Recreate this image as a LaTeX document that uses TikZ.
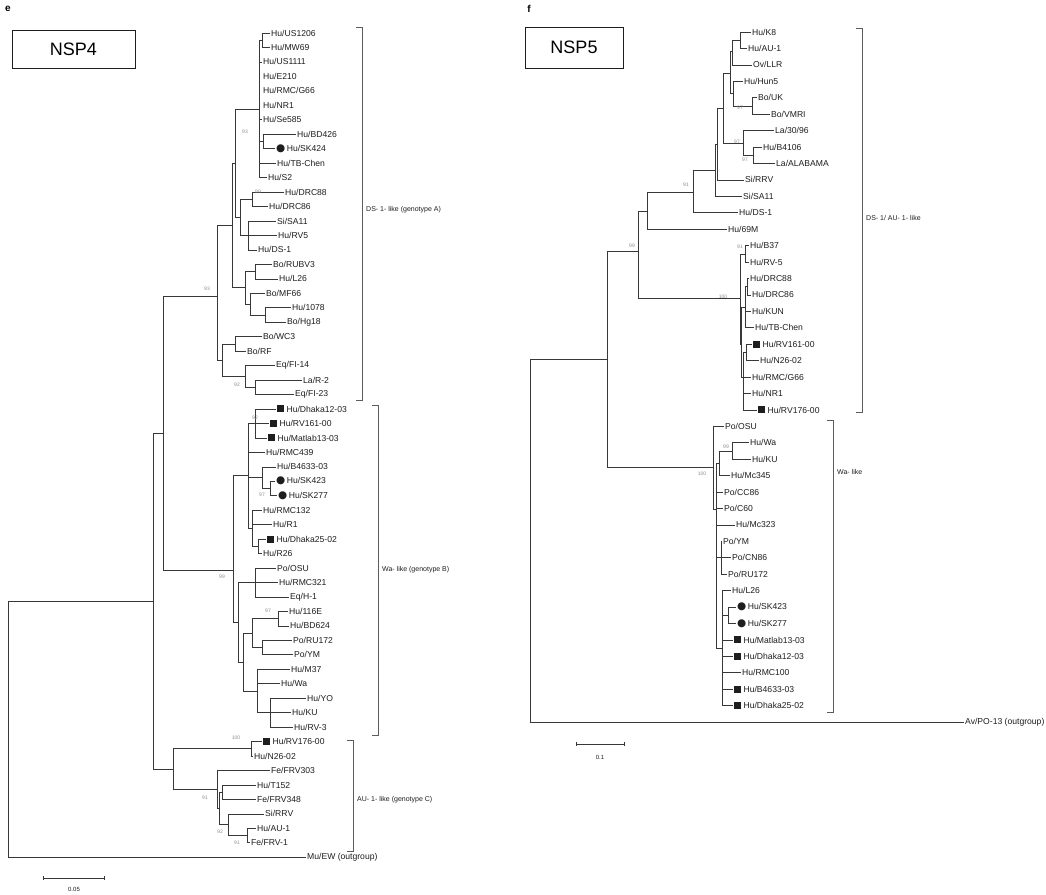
\documentclass[tikz,border=0pt]{standalone}
\usepackage{fontspec}
\setmainfont{Liberation Sans}
\newfontfamily\symfont{DejaVu Sans}
\usepackage{tikz}
\usetikzlibrary{arrows.meta,positioning}
\definecolor{Ink}{HTML}{1E1E1E}
\definecolor{Branch}{HTML}{383838}
\definecolor{Boot}{HTML}{8C8C8C}
\definecolor{Brak}{HTML}{5C5C5C}
\newcommand\boxmk{\rule[-.3pt]{7pt}{7pt}}
\newcommand\dotmk{{\symfont\fontsize{10.5}{10.5}\selectfont ●}}
\tikzset{
  leaf/.style={anchor=west,inner sep=1pt,text=Ink,font=\fontsize{8.6}{9}\selectfont},
  br/.style={draw=Branch,line width=.6pt},
  boot/.style={inner sep=0pt,text=Boot,font=\fontsize{5}{5}\selectfont},
  clade/.style={draw=Brak,line width=.6pt},
  cladelab/.style={anchor=west,inner sep=1pt,text=Ink,font=\fontsize{7}{8}\selectfont},
  titlebox/.style={draw=Ink,line width=.8pt,inner sep=0pt,font=\fontsize{18}{18}\selectfont},
  panel/.style={inner sep=0pt,font=\fontsize{10}{10}\selectfont\bfseries},
  scalebar/.style={draw=Branch,line width=.6pt,{Bar[width=4pt]}-{Bar[width=4pt]}},
  scalelab/.style={inner sep=0pt,text=Ink,font=\fontsize{6}{6}\selectfont}
}
\begin{document}
\begin{tikzpicture}[x=1pt,y=-1pt]
  \useasboundingbox[fill=white] (0,0) rectangle (1046,894);
  \node[panel] (pe) at (8,9) {e};
  \node[panel] (pf) at (529,9) {f};
  \node[titlebox,minimum width=123pt,minimum height=38pt] (t4) at (73.5,49) {NSP4};
  \node[titlebox,minimum width=98pt,minimum height=41pt] (t5) at (574,47.5) {NSP5};

  % NSP4 tree, one row per strain
  \begin{scope}[y=-14.46pt,yshift=-18.54pt]
    \node[leaf] (l1) at (270,1) {Hu/US1206};
    \node[leaf] (l2) at (270,2) {Hu/MW69};
    \node[leaf] (l3) at (262,3) {Hu/US1111};
    \node[leaf] (l4) at (262,4) {Hu/E210};
    \node[leaf] (l5) at (262,5) {Hu/RMC/G66};
    \node[leaf] (l6) at (262,6) {Hu/NR1};
    \node[leaf] (l7) at (262,7) {Hu/Se585};
    \node[leaf] (l8) at (296,8) {Hu/BD426};
    \node[leaf] (l9) at (275,9) {\dotmk\,Hu/SK424};
    \node[leaf] (l10) at (276,10) {Hu/TB-Chen};
    \node[leaf] (l11) at (267,11) {Hu/S2};
    \node[leaf] (l12) at (284,12) {Hu/DRC88};
    \node[leaf] (l13) at (268,13) {Hu/DRC86};
    \node[leaf] (l14) at (276,14) {Si/SA11};
    \node[leaf] (l15) at (277,15) {Hu/RV5};
    \node[leaf] (l16) at (257,16) {Hu/DS-1};
    \node[leaf] (l17) at (272,17) {Bo/RUBV3};
    \node[leaf] (l18) at (278,18) {Hu/L26};
    \node[leaf] (l19) at (265,19) {Bo/MF66};
    \node[leaf] (l20) at (291,20) {Hu/1078};
    \node[leaf] (l21) at (286,21) {Bo/Hg18};
    \node[leaf] (l22) at (262,22) {Bo/WC3};
    \node[leaf] (l23) at (246,23) {Bo/RF};
    \node[leaf] (l24) at (275,24) {Eq/FI-14};
    \node[leaf] (l25) at (302,25) {La/R-2};
    \node[leaf] (l26) at (294,26) {Eq/FI-23};
    \node[leaf] (l27) at (276,27) {\boxmk\ Hu/Dhaka12-03};
    \node[leaf] (l28) at (269,28) {\boxmk\ Hu/RV161-00};
    \node[leaf] (l29) at (267,29) {\boxmk\ Hu/Matlab13-03};
    \node[leaf] (l30) at (265,30) {Hu/RMC439};
    \node[leaf] (l31) at (276,31) {Hu/B4633-03};
    \node[leaf] (l32) at (275,32) {\dotmk\,Hu/SK423};
    \node[leaf] (l33) at (277,33) {\dotmk\,Hu/SK277};
    \node[leaf] (l34) at (262,34) {Hu/RMC132};
    \node[leaf] (l35) at (272,35) {Hu/R1};
    \node[leaf] (l36) at (266,36) {\boxmk\ Hu/Dhaka25-02};
    \node[leaf] (l37) at (262,37) {Hu/R26};
    \node[leaf] (l38) at (276,38) {Po/OSU};
    \node[leaf] (l39) at (278,39) {Hu/RMC321};
    \node[leaf] (l40) at (289,40) {Eq/H-1};
    \node[leaf] (l41) at (288,41) {Hu/116E};
    \node[leaf] (l42) at (289,42) {Hu/BD624};
    \node[leaf] (l43) at (292,43) {Po/RU172};
    \node[leaf] (l44) at (293,44) {Po/YM};
    \node[leaf] (l45) at (290,45) {Hu/M37};
    \node[leaf] (l46) at (280,46) {Hu/Wa};
    \node[leaf] (l47) at (306,47) {Hu/YO};
    \node[leaf] (l48) at (291,48) {Hu/KU};
    \node[leaf] (l49) at (293,49) {Hu/RV-3};
    \node[leaf] (l50) at (262,50) {\boxmk\ Hu/RV176-00};
    \node[leaf] (l51) at (253,51) {Hu/N26-02};
    \node[leaf] (l52) at (270,52) {Fe/FRV303};
    \node[leaf] (l53) at (256,53) {Hu/T152};
    \node[leaf] (l54) at (256,54) {Fe/FRV348};
    \node[leaf] (l55) at (264,55) {Si/RRV};
    \node[leaf] (l56) at (256,56) {Hu/AU-1};
    \node[leaf] (l57) at (250,57) {Fe/FRV-1};
    \node[leaf] (l58) at (306,58) {Mu/EW (outgroup)};

    % internal nodes
    \coordinate (p12) at (262,1.5);
    \coordinate (p89) at (263,8.5);
    \coordinate (aT) at (259,6.25);
    \coordinate (pdrc) at (252,12.5);
    \coordinate (aD2) at (248,15);
    \coordinate (aD) at (240,13.75);
    \coordinate (A1) at (235,10);
    \coordinate (p1718) at (255,17.5);
    \coordinate (p2021) at (265,20.5);
    \coordinate (aB2) at (250,19.75);
    \coordinate (aB) at (245,18.6);
    \coordinate (A1b) at (232,14.3);
    \coordinate (p2223) at (235,22.5);
    \coordinate (p2526) at (255,25.5);
    \coordinate (aE2) at (245,24.75);
    \coordinate (aE) at (222,23.6);
    \coordinate (A) at (217,19.19);
    \coordinate (p2729) at (255,28);
    \coordinate (p3233) at (270,32.5);
    \coordinate (b3) at (262,31.75);
    \coordinate (p3637) at (258,36.5);
    \coordinate (b4) at (252,35.25);
    \coordinate (B1) at (248,31.6);
    \coordinate (b5) at (255,39);
    \coordinate (p4142) at (278,41.5);
    \coordinate (p4344) at (262,43.5);
    \coordinate (b6) at (252,42.5);
    \coordinate (p4749) at (270,48);
    \coordinate (b7) at (257,46.5);
    \coordinate (b8) at (243,44.5);
    \coordinate (B2) at (238,41.75);
    \coordinate (B) at (233,38.14);
    \coordinate (p5051) at (251,50.5);
    \coordinate (p5354) at (222,53.5);
    \coordinate (p5657) at (247,56.5);
    \coordinate (c3) at (228,55.75);
    \coordinate (c2) at (219,54.6);
    \coordinate (c1) at (217,53.3);
    \coordinate (C) at (173,51.9);
    \coordinate (AB) at (163,28.66);
    \coordinate (I) at (153,40.28);
    \coordinate (R) at (8,49.06);

    \draw[br] (p12) |- (l1.west) (p12) |- (l2.west);
    \draw[br] (p89) |- (l8.west) (p89) |- (l9.west);
    \draw[br] (aT) |- (p12) (aT) |- (l3.west) (aT) |- (l7.west) (aT) |- (p89)
              (aT) |- (l10.west) (aT) |- (l11.west);
    \draw[br] (pdrc) |- (l12.west) (pdrc) |- (l13.west);
    \draw[br] (aD2) |- (l14.west) (aD2) |- (l15.west) (aD2) |- (l16.west);
    \draw[br] (aD) |- (pdrc) (aD) |- (aD2);
    \draw[br] (A1) |- (aT) (A1) |- (aD);
    \draw[br] (p1718) |- (l17.west) (p1718) |- (l18.west);
    \draw[br] (p2021) |- (l20.west) (p2021) |- (l21.west);
    \draw[br] (aB2) |- (l19.west) (aB2) |- (p2021);
    \draw[br] (aB) |- (p1718) (aB) |- (aB2);
    \draw[br] (A1b) |- (A1) (A1b) |- (aB);
    \draw[br] (p2223) |- (l22.west) (p2223) |- (l23.west);
    \draw[br] (p2526) |- (l25.west) (p2526) |- (l26.west);
    \draw[br] (aE2) |- (l24.west) (aE2) |- (p2526);
    \draw[br] (aE) |- (p2223) (aE) |- (aE2);
    \draw[br] (A) |- (A1b) (A) |- (aE);
    \draw[br] (p2729) |- (l27.west) (p2729) |- (l28.west) (p2729) |- (l29.west);
    \draw[br] (p3233) |- (l32.west) (p3233) |- (l33.west);
    \draw[br] (b3) |- (l31.west) (b3) |- (p3233);
    \draw[br] (p3637) |- (l36.west) (p3637) |- (l37.west);
    \draw[br] (b4) |- (l34.west) (b4) |- (l35.west) (b4) |- (p3637);
    \draw[br] (B1) |- (p2729) (B1) |- (l30.west) (B1) |- (b3) (B1) |- (b4);
    \draw[br] (b5) |- (l38.west) (b5) |- (l39.west) (b5) |- (l40.west);
    \draw[br] (p4142) |- (l41.west) (p4142) |- (l42.west);
    \draw[br] (p4344) |- (l43.west) (p4344) |- (l44.west);
    \draw[br] (b6) |- (p4142) (b6) |- (p4344);
    \draw[br] (p4749) |- (l47.west) (p4749) |- (l48.west) (p4749) |- (l49.west);
    \draw[br] (b7) |- (l45.west) (b7) |- (l46.west) (b7) |- (p4749);
    \draw[br] (b8) |- (b6) (b8) |- (b7);
    \draw[br] (B2) |- (b5) (B2) |- (b8);
    \draw[br] (B) |- (B1) (B) |- (B2);
    \draw[br] (p5051) |- (l50.west) (p5051) |- (l51.west);
    \draw[br] (p5354) |- (l53.west) (p5354) |- (l54.west);
    \draw[br] (p5657) |- (l56.west) (p5657) |- (l57.west);
    \draw[br] (c3) |- (l55.west) (c3) |- (p5657);
    \draw[br] (c2) |- (p5354) (c2) |- (c3);
    \draw[br] (c1) |- (l52.west) (c1) |- (c2);
    \draw[br] (C) |- (p5051) (C) |- (c1);
    \draw[br] (AB) |- (A) (AB) |- (B);
    \draw[br] (I) |- (AB) (I) |- (C);
    \draw[br] (R) |- (I) (R) |- (l58.west);

    % clade brackets
    \draw[clade] (356,0.59) -- (362,0.59) -- (362,26.38) -- (356,26.38);
    \draw[clade] (372,26.72) -- (378,26.72) -- (378,49.55) -- (372,49.55);
    \draw[clade] (347,49.9) -- (353,49.9) -- (353,57.6) -- (347,57.6);
    \node[cladelab] (gA) at (365,13.24) {DS- 1- like (genotype A)};
    \node[cladelab] (gB) at (381,38.14) {Wa- like (genotype B)};
    \node[cladelab] (gC) at (356,54.04) {AU- 1- like (genotype C)};
  \end{scope}

  % bootstrap values, NSP4
  \node[boot] (bs1) at (245,132) {93};
  \node[boot] (bs2) at (258,192) {99};
  \node[boot] (bs3) at (207,289) {93};
  \node[boot] (bs4) at (237,385) {92};
  \node[boot] (bs5) at (255,418) {92};
  \node[boot] (bs6) at (262,495) {97};
  \node[boot] (bs7) at (222,577) {99};
  \node[boot] (bs8) at (268,611) {97};
  \node[boot] (bs9) at (236,738) {100};
  \node[boot] (bs10) at (205,798) {91};
  \node[boot] (bs11) at (220,832) {92};
  \node[boot] (bs12) at (237,843) {91};

  % NSP5 tree
  \begin{scope}[y=-16.43pt,yshift=-15.57pt]
    \node[leaf] (r1) at (751,1) {Hu/K8};
    \node[leaf] (r2) at (747,2) {Hu/AU-1};
    \node[leaf] (r3) at (752,3) {Ov/LLR};
    \node[leaf] (r4) at (743,4) {Hu/Hun5};
    \node[leaf] (r5) at (757,5) {Bo/UK};
    \node[leaf] (r6) at (770,6) {Bo/VMRI};
    \node[leaf] (r7) at (774,7) {La/30/96};
    \node[leaf] (r8) at (762,8) {Hu/B4106};
    \node[leaf] (r9) at (775,9) {La/ALABAMA};
    \node[leaf] (r10) at (744,10) {Si/RRV};
    \node[leaf] (r11) at (742,11) {Si/SA11};
    \node[leaf] (r12) at (738,12) {Hu/DS-1};
    \node[leaf] (r13) at (727,13) {Hu/69M};
    \node[leaf] (r14) at (749,14) {Hu/B37};
    \node[leaf] (r15) at (749,15) {Hu/RV-5};
    \node[leaf] (r16) at (749,16) {Hu/DRC88};
    \node[leaf] (r17) at (751,17) {Hu/DRC86};
    \node[leaf] (r18) at (751,18) {Hu/KUN};
    \node[leaf] (r19) at (754,19) {Hu/TB-Chen};
    \node[leaf] (r20) at (752,20) {\boxmk\ Hu/RV161-00};
    \node[leaf] (r21) at (759,21) {Hu/N26-02};
    \node[leaf] (r22) at (751,22) {Hu/RMC/G66};
    \node[leaf] (r23) at (751,23) {Hu/NR1};
    \node[leaf] (r24) at (757,24) {\boxmk\ Hu/RV176-00};
    \node[leaf] (r25) at (724,25) {Po/OSU};
    \node[leaf] (r26) at (749,26) {Hu/Wa};
    \node[leaf] (r27) at (751,27) {Hu/KU};
    \node[leaf] (r28) at (730,28) {Hu/Mc345};
    \node[leaf] (r29) at (723,29) {Po/CC86};
    \node[leaf] (r30) at (723,30) {Po/C60};
    \node[leaf] (r31) at (735,31) {Hu/Mc323};
    \node[leaf] (r32) at (722,32) {Po/YM};
    \node[leaf] (r33) at (731,33) {Po/CN86};
    \node[leaf] (r34) at (727,34) {Po/RU172};
    \node[leaf] (r35) at (731,35) {Hu/L26};
    \node[leaf] (r36) at (736,36) {\dotmk\,Hu/SK423};
    \node[leaf] (r37) at (736,37) {\dotmk\,Hu/SK277};
    \node[leaf] (r38) at (733,38) {\boxmk\ Hu/Matlab13-03};
    \node[leaf] (r39) at (733,39) {\boxmk\ Hu/Dhaka12-03};
    \node[leaf] (r40) at (741,40) {Hu/RMC100};
    \node[leaf] (r41) at (733,41) {\boxmk\ Hu/B4633-03};
    \node[leaf] (r42) at (733,42) {\boxmk\ Hu/Dhaka25-02};
    \node[leaf] (r43) at (964,43) {Av/PO-13 (outgroup)};

    \coordinate (pK8) at (740,1.5);
    \coordinate (dK1) at (732,2.2);
    \coordinate (pUK) at (752,5.5);
    \coordinate (dH) at (733,4.75);
    \coordinate (dK) at (730,3.5);
    \coordinate (pB) at (753,8.5);
    \coordinate (d30) at (743,7.75);
    \coordinate (dB) at (723,5.66);
    \coordinate (dC) at (717,7.82);
    \coordinate (dA) at (715,9.4);
    \coordinate (d91) at (693,10.74);
    \coordinate (D1) at (647,11.9);
    \coordinate (pB37) at (745,14.5);
    \coordinate (pDRC) at (747,16.5);
    \coordinate (D4) at (745,17.75);
    \coordinate (pRV) at (746,20.5);
    \coordinate (D5) at (743,22);
    \coordinate (D3) at (741,20);
    \coordinate (D2) at (740,17.2);
    \coordinate (D) at (638,14.33);
    \coordinate (pWa) at (732,26.5);
    \coordinate (W2) at (719,27.25);
    \coordinate (W4) at (721,33);
    \coordinate (W5) at (728,36.5);
    \coordinate (W3) at (722,38.5);
    \coordinate (W1) at (716,30.03);
    \coordinate (W) at (713,27.47);
    \coordinate (I2) at (607,20.93);
    \coordinate (R2) at (530,32);

    \draw[br] (pK8) |- (r1.west) (pK8) |- (r2.west);
    \draw[br] (dK1) |- (pK8) (dK1) |- (r3.west);
    \draw[br] (pUK) |- (r5.west) (pUK) |- (r6.west);
    \draw[br] (dH) |- (r4.west) (dH) |- (pUK);
    \draw[br] (dK) |- (dK1) (dK) |- (dH);
    \draw[br] (pB) |- (r8.west) (pB) |- (r9.west);
    \draw[br] (d30) |- (r7.west) (d30) |- (pB);
    \draw[br] (dB) |- (dK) (dB) |- (d30);
    \draw[br] (dC) |- (dB) (dC) |- (r10.west);
    \draw[br] (dA) |- (dC) (dA) |- (r11.west);
    \draw[br] (d91) |- (dA) (d91) |- (r12.west);
    \draw[br] (D1) |- (d91) (D1) |- (r13.west);
    \draw[br] (pB37) |- (r14.west) (pB37) |- (r15.west);
    \draw[br] (pDRC) |- (r16.west) (pDRC) |- (r17.west);
    \draw[br] (D4) |- (pDRC) (D4) |- (r18.west) (D4) |- (r19.west);
    \draw[br] (pRV) |- (r20.west) (pRV) |- (r21.west);
    \draw[br] (D5) |- (pRV) (D5) |- (r22.west) (D5) |- (r23.west) (D5) |- (r24.west);
    \draw[br] (D3) |- (D4) (D3) |- (D5);
    \draw[br] (D2) |- (pB37) (D2) |- (D3);
    \draw[br] (D) |- (D1) (D) |- (D2);
    \draw[br] (pWa) |- (r26.west) (pWa) |- (r27.west);
    \draw[br] (W2) |- (pWa) (W2) |- (r28.west);
    \draw[br] (W4) |- (r32.west) (W4) |- (r33.west) (W4) |- (r34.west);
    \draw[br] (W5) |- (r36.west) (W5) |- (r37.west);
    \draw[br] (W3) |- (r35.west) (W3) |- (W5) (W3) |- (r38.west) (W3) |- (r39.west)
              (W3) |- (r40.west) (W3) |- (r41.west) (W3) |- (r42.west);
    \draw[br] (W1) |- (W2) (W1) |- (r29.west) (W1) |- (r30.west) (W1) |- (r31.west)
              (W1) |- (W4) (W1) |- (W3);
    \draw[br] (W) |- (r25.west) (W) |- (W1);
    \draw[br] (I2) |- (D) (I2) |- (W);
    \draw[br] (R2) |- (I2) (R2) |- (r43.west);
  \end{scope}

  \draw[clade] (856,28) -- (862,28) -- (862,412) -- (856,412);
  \draw[clade] (827,420) -- (833,420) -- (833,712) -- (827,712);
  \node[cladelab] (gD) at (865,218) {DS- 1/ AU- 1- like};
  \node[cladelab] (gW) at (836,472) {Wa- like};

  % bootstrap values, NSP5
  \node[boot] (bt1) at (740,108) {97};
  \node[boot] (bt2) at (737,142) {97};
  \node[boot] (bt3) at (745,160) {97};
  \node[boot] (bt4) at (686,185) {91};
  \node[boot] (bt5) at (632,246) {99};
  \node[boot] (bt6) at (740,247) {91};
  \node[boot] (bt7) at (723,297) {100};
  \node[boot] (bt8) at (726,447) {99};
  \node[boot] (bt9) at (702,474) {100};

  % scale bars
  \coordinate (sa1) at (43,878);
  \coordinate (sa2) at (105,878);
  \draw[scalebar] (sa1) -- (sa2);
  \node[scalelab] (sla) at (74,889) {0.05};
  \coordinate (sb1) at (576,744);
  \coordinate (sb2) at (625,744);
  \draw[scalebar] (sb1) -- (sb2);
  \node[scalelab] (slb) at (600,757) {0.1};
\end{tikzpicture}
\end{document}
